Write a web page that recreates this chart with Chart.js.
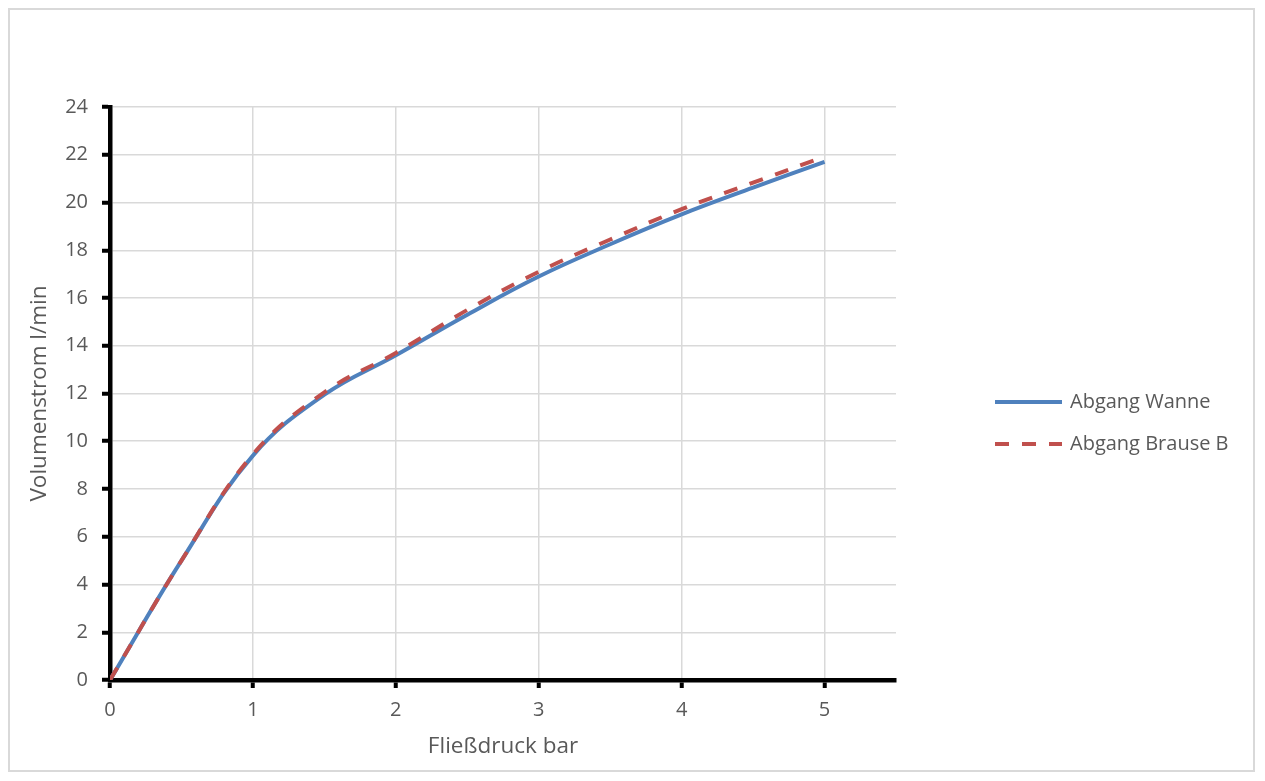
<!DOCTYPE html>
<html>
<head>
<meta charset="utf-8">
<script src="https://cdn.jsdelivr.net/npm/chart.js@4"></script>
<style>
  body { margin: 0; background: #fff; }
  #frame { position: absolute; left: 8px; top: 8px; width: 1247px; height: 764px; box-sizing: border-box; border: 2px solid #d9d9d9; }
  #chart { position: absolute; left: 0; top: 0; }
</style>
</head>
<body>
<div id="frame"></div>
<canvas id="chart" width="1265" height="781"></canvas>
<script>
// Fließdruck (bar) und Volumenstrom (l/min)
const druck = [0, 0.5, 1, 1.5, 2, 2.5, 3, 3.5, 4, 4.5, 5];
const wanne = [0, 5.0, 9.4, 11.95, 13.6, 15.3, 16.9, 18.25, 19.5, 20.62, 21.7];
const brause = [0, 5.0, 9.45, 12.05, 13.7, 15.5, 17.1, 18.45, 19.72, 20.83, 21.92];
const xTicks = [0, 1, 2, 3, 4, 5];

const FONT = "'Open Sans', 'Noto Sans', sans-serif";
const GREY = "#595959";

function points(ys) {
    return druck.map((x, i) => ({ x: x, y: ys[i] }));
}

// Legende rechts neben dem Diagramm, wie im Original
const sideLegend = {
    id: "sideLegend",
    afterDraw(chart) {
        const ctx = chart.ctx;
        const x0 = 995, lineLen = 67;
        const rows = [402, 444];
        chart.data.datasets.forEach((ds, i) => {
            const y = rows[i];
            ctx.save();
            ctx.strokeStyle = ds.borderColor;
            ctx.lineWidth = ds.borderWidth;
            ctx.setLineDash(ds.borderDash || []);
            ctx.beginPath();
            ctx.moveTo(x0, y);
            ctx.lineTo(x0 + lineLen, y);
            ctx.stroke();
            ctx.restore();
            ctx.save();
            ctx.fillStyle = GREY;
            ctx.font = "20px " + FONT;
            ctx.textBaseline = "middle";
            ctx.fillText(ds.label, x0 + lineLen + 8, y);
            ctx.restore();
        });
    }
};

new Chart(document.getElementById("chart"), {
    type: "line",
    data: {
        datasets: [
            {
                label: "Abgang Wanne",
                data: points(wanne),
                borderColor: "#4f81bd",
                borderWidth: 4,
                pointRadius: 0,
                tension: 0.4,
                order: 1
            },
            {
                label: "Abgang Brause B",
                data: points(brause),
                borderColor: "#c0504d",
                borderWidth: 4,
                borderDash: [14, 13],
                pointRadius: 0,
                tension: 0.4,
                order: 0
            }
        ]
    },
    options: {
        responsive: false,
        animation: false,
        layout: { padding: { left: 20, top: 107, right: 369, bottom: 10 } },
        plugins: {
            legend: { display: false },
            tooltip: { enabled: false }
        },
        scales: {
            x: {
                type: "linear",
                min: 0,
                max: 5.5,
                afterBuildTicks: s => { s.ticks = xTicks.map(v => ({ value: v })); },
                afterFit: s => { s.height = 91; },
                ticks: { color: GREY, font: { family: FONT, size: 20 }, padding: 10 },
                grid: { color: "#d9d9d9", lineWidth: 1.5, tickColor: "#000", tickWidth: 4, tickLength: 8 },
                border: { color: "#000", width: 4.5 },
                title: { display: true, text: "Fließdruck bar", color: GREY, font: { family: FONT, size: 22.5 }, padding: { top: 0, bottom: 10.5 } }
            },
            y: {
                min: 0,
                max: 24,
                ticks: { stepSize: 2, color: GREY, font: { family: FONT, size: 20 }, padding: 14 },
                afterFit: s => { s.width = 90; },
                grid: { color: "#d9d9d9", lineWidth: 1.5, tickColor: "#000", tickWidth: 4, tickLength: 8 },
                border: { color: "#000", width: 4.5 },
                title: { display: true, text: "Volumenstrom l/min", color: GREY, font: { family: FONT, size: 22.5 }, padding: { top: 6.5, bottom: 0 } }
            }
        }
    },
    plugins: [sideLegend]
});
</script>
</body>
</html>
